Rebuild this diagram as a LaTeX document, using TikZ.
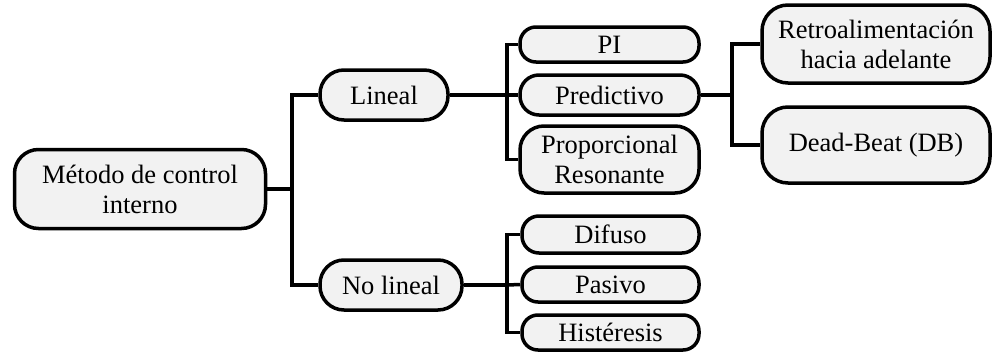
\documentclass[tikz,border=0pt]{standalone}
\usepackage{fontspec}
\setmainfont{Liberation Serif}
\begin{document}
\begin{tikzpicture}[x=1pt,y=-1pt,
  box/.style={draw=black,line width=3.5pt,fill=boxgray,align=center,inner sep=0pt,
    font=\fontsize{26.5}{30}\selectfont},
  link/.style={draw=black,line width=3.5pt,line join=miter}]
\definecolor{boxgray}{HTML}{F2F2F2}
\useasboundingbox (0,0) rectangle (995,351);
% nodes
\node[box,rounded corners=24pt,minimum width=251pt,minimum height=79pt] (root) at (140,189) {Método de control\\interno};
\node[box,rounded corners=24pt,minimum width=128pt,minimum height=50pt] (lin) at (384,95) {Lineal};
\node[box,rounded corners=24pt,minimum width=142pt,minimum height=50pt] (nolin) at (391,285) {No lineal};
\node[box,rounded corners=16pt,minimum width=179pt,minimum height=35pt] (pi) at (609.5,44.5) {PI};
\node[box,rounded corners=19pt,minimum width=179pt,minimum height=40pt] (pred) at (609.5,95) {Predictivo};
\node[box,rounded corners=24pt,minimum width=179pt,minimum height=67pt] (pr) at (609.5,159.5) {Proporcional\\Resonante};
\node[box,rounded corners=17pt,minimum width=177pt,minimum height=37pt] (dif) at (610.5,234.5) {Difuso};
\node[box,rounded corners=16pt,minimum width=177pt,minimum height=35pt] (pas) at (610.5,284.5) {Pasivo};
\node[box,rounded corners=16pt,minimum width=177pt,minimum height=35pt] (his) at (610.5,332.5) {Histéresis};
\node[box,rounded corners=26pt,minimum width=228pt,minimum height=78pt] (ret) at (876,44) {Retroalimentación\\hacia adelante};
\node[box,rounded corners=26pt,minimum width=228pt,minimum height=76pt] (db) at (876,145) {Dead-Beat (DB)};
% junctions
\coordinate (j0) at (292,189);
\coordinate (j1) at (507,95);
\coordinate (j2) at (507,285);
\coordinate (j3) at (732,95);
% connectors
\draw[link] (root.east) -- (j0);
\draw[link] (lin.west) -| (j0) |- (nolin.west);
\draw[link] (lin.east) -- (j1);
\draw[link] (pi.west) -| (j1) |- (pr.west);
\draw[link] (j1) -- (pred.west);
\draw[link] (nolin.east) -- (j2);
\draw[link] (dif.west) -| (j2) |- (his.west);
\draw[link] (j2) -- (pas.west);
\draw[link] (pred.east) -- (j3);
\draw[link] (ret.west) -| (j3) |- (db.west);
\end{tikzpicture}
\end{document}
